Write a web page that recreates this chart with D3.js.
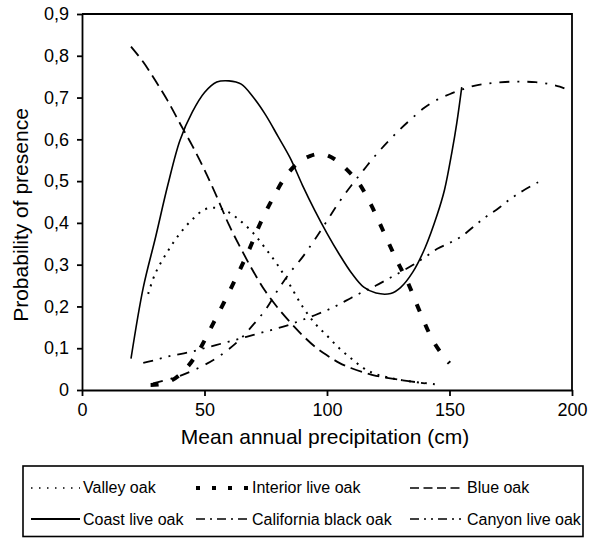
<!DOCTYPE html>
<html>
<head>
<meta charset="utf-8">
<script src="https://cdn.jsdelivr.net/npm/d3@7"></script>
<style>
  html, body { margin: 0; padding: 0; background: #fff; }
  svg { display: block; font-family: "Liberation Sans", Arial, sans-serif; }
</style>
</head>
<body>
<svg id="chart" width="592" height="538"></svg>
<script>
// Probability of presence of six oak species along mean annual precipitation (cm)
const valleyOak = [[27,.23],[30,.28],[35,.332],[40,.375],[45,.408],[50,.432],[55,.436],[60,.425],[65,.403],[70,.375],[75,.338],[80,.298],[85,.25],[90,.2],[95,.16],[100,.13],[105,.1],[110,.075],[115,.052],[120,.038],[130,.024],[144,.014]];
const interiorLiveOak = [[28,.012],[33,.015],[38,.028],[43,.055],[48,.097],[53,.153],[58,.21],[63,.27],[68,.333],[73,.402],[78,.46],[83,.51],[88,.543],[93,.56],[98,.565],[103,.553],[108,.528],[113,.495],[118,.443],[123,.38],[128,.316],[133,.257],[138,.186],[143,.121],[147,.085],[150,.064]];
const blueOak = [[20,.822],[25,.785],[30,.74],[35,.692],[40,.638],[45,.585],[50,.527],[55,.463],[60,.395],[65,.337],[70,.283],[75,.235],[80,.196],[85,.162],[90,.131],[95,.104],[100,.083],[105,.065],[110,.052],[115,.042],[120,.034],[130,.024],[140,.016]];
const coastLiveOak = [[20,.075],[25,.245],[30,.365],[35,.49],[40,.598],[45,.665],[50,.712],[55,.737],[60,.74],[65,.732],[70,.70],[75,.658],[80,.607],[85,.555],[90,.49],[95,.43],[100,.375],[105,.325],[110,.28],[115,.246],[120,.232],[126,.231],[130,.245],[135,.282],[140,.34],[145,.42],[148,.48],[151,.57],[153,.64],[155,.725]];
const californiaBlackOak = [[29,.016],[35,.025],[40,.034],[45,.046],[50,.06],[55,.077],[60,.098],[65,.124],[70,.157],[75,.193],[80,.24],[85,.282],[90,.318],[95,.36],[100,.405],[105,.45],[110,.49],[115,.527],[120,.563],[125,.595],[130,.625],[135,.652],[140,.677],[145,.695],[150,.708],[155,.719],[160,.728],[165,.733],[170,.736],[175,.738],[180,.738],[185,.737],[190,.733],[195,.726],[200,.714]];
const canyonLiveOak = [[25,.065],[30,.072],[35,.08],[40,.086],[45,.092],[50,.1],[55,.108],[60,.116],[65,.124],[70,.132],[75,.14],[80,.148],[85,.157],[90,.168],[95,.179],[100,.191],[105,.205],[110,.221],[115,.236],[120,.25],[125,.266],[130,.282],[135,.299],[140,.318],[145,.338],[150,.352],[155,.368],[160,.392],[165,.415],[170,.435],[175,.458],[180,.477],[187,.5]];

const xTicks = [0, 50, 100, 150, 200];
const yTicks = [0, .1, .2, .3, .4, .5, .6, .7, .8, .9];
const speciesNames = ["Valley oak", "Interior live oak", "Blue oak", "Coast live oak", "California black oak", "Canyon live oak"];

// line styles per species
const styles = [
  { width: 2,   dash: "2,6",             legendDash: "1.5,6.5" },
  { width: 4,   dash: "8,14",            legendDash: "4,12" },
  { width: 1.8, dash: "12,6",            legendDash: "9,4.5" },
  { width: 1.6, dash: null,              legendDash: null },
  { width: 1.8, dash: "10,8,2,8",        legendDash: "9,5,2,5" },
  { width: 1.8, dash: "10,7,2,7,2,7",    legendDash: "9,5,2,5,2,5" }
];
const seriesData = [valleyOak, interiorLiveOak, blueOak, coastLiveOak, californiaBlackOak, canyonLiveOak];

const svg = d3.select("#chart");
const x = d3.scaleLinear().domain([0, 200]).range([82, 572]);
const y = d3.scaleLinear().domain([0, 0.9]).range([390, 14]);
const fmt = v => v === 0 ? "0" : d3.format(".1f")(v).replace(".", ",");

// frame (top and right)
svg.append("path")
  .attr("d", `M${x(0)},${y(0.9)}H${x(200)}V${y(0)}`)
  .attr("fill", "none").attr("stroke", "#000").attr("stroke-width", 1.8);

const yAxis = svg.append("g")
  .attr("transform", `translate(${x(0)},0)`)
  .call(d3.axisLeft(y).tickValues(yTicks).tickFormat(fmt).tickSize(5).tickSizeOuter(0).tickPadding(8));
const xAxis = svg.append("g")
  .attr("transform", `translate(0,${y(0)})`)
  .call(d3.axisBottom(x).tickValues(xTicks).tickFormat(d3.format("d")).tickSize(6).tickSizeOuter(0).tickPadding(7));
[yAxis, xAxis].forEach(g => {
  g.selectAll("path, line").attr("stroke", "#000").attr("stroke-width", 1.8);
  g.selectAll("text").attr("font-size", 18).attr("fill", "#000")
    .style("font-family", "'Liberation Sans', Arial, sans-serif");
});

// axis titles
svg.append("text")
  .attr("x", 325).attr("y", 444)
  .attr("text-anchor", "middle").attr("font-size", 21)
  .text("Mean annual precipitation (cm)");
svg.append("text")
  .attr("transform", "translate(28,215) rotate(-90)")
  .attr("text-anchor", "middle").attr("font-size", 21)
  .text("Probability of presence");

// curves
const line = d3.line().x(d => x(d[0])).y(d => y(d[1])).curve(d3.curveCatmullRom.alpha(0.5));
seriesData.forEach((data, i) => {
  svg.append("path")
    .datum(data)
    .attr("d", line)
    .attr("fill", "none")
    .attr("stroke", "#000")
    .attr("stroke-width", styles[i].width)
    .attr("stroke-dasharray", styles[i].dash);
});

// legend
svg.append("rect")
  .attr("x", 23).attr("y", 466).attr("width", 560).attr("height", 70.5)
  .attr("fill", "#fff").attr("stroke", "#000").attr("stroke-width", 1.6);

const legendCols = [
  { x0: 31, x1: 80, tx: 83 },
  { x0: 196, x1: 249, tx: 252 },
  { x0: 410, x1: 464, tx: 467 }
];
const legendRows = [{ ly: 488, ty: 493 }, { ly: 519, ty: 525 }];

speciesNames.forEach((name, i) => {
  const c = legendCols[i % 3], r = legendRows[Math.floor(i / 3)];
  svg.append("line")
    .attr("x1", c.x0).attr("x2", c.x1).attr("y1", r.ly).attr("y2", r.ly)
    .attr("stroke", "#000")
    .attr("stroke-width", i === 1 ? 4 : (i === 3 ? 1.8 : 1.6))
    .attr("stroke-dasharray", styles[i].legendDash);
  svg.append("text")
    .attr("x", c.tx).attr("y", r.ty)
    .attr("font-size", 16)
    .text(name);
});
</script>
</body>
</html>
